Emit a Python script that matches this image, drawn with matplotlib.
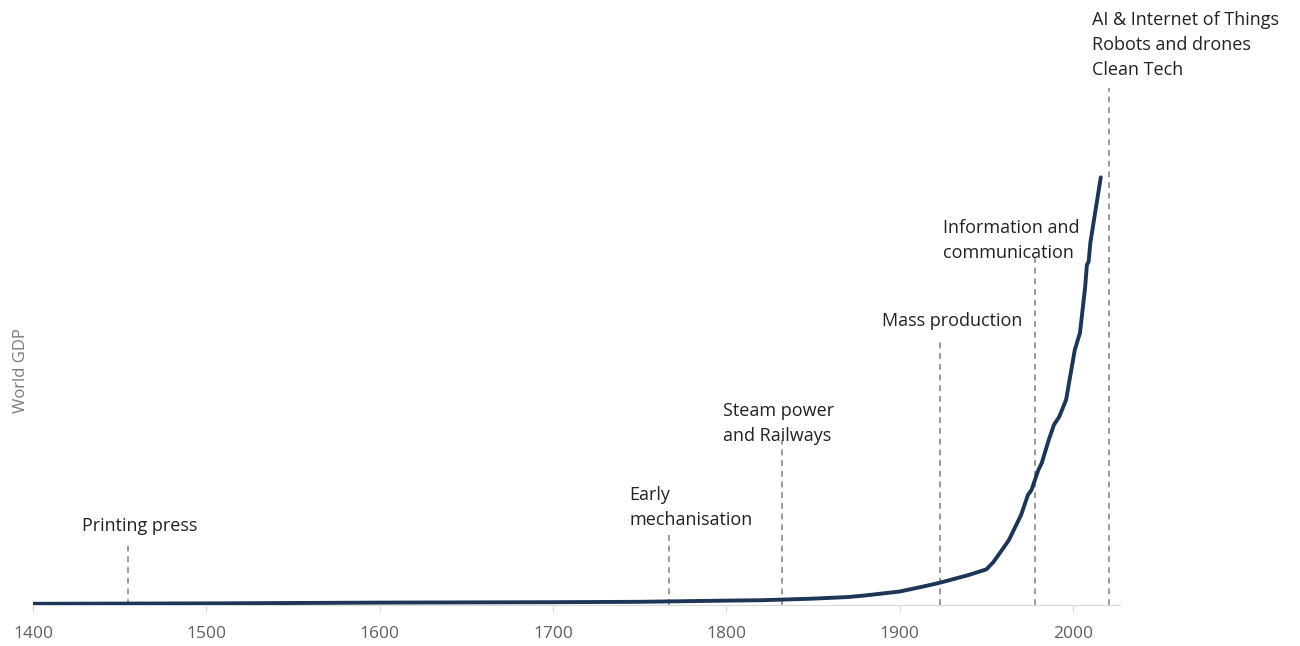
import matplotlib
matplotlib.use("Agg")
import matplotlib.pyplot as plt

plt.rcParams['font.family'] = ['Open Sans', 'DejaVu Sans']

# world GDP, trillions (international $)
years = [1400, 1500, 1600, 1700, 1750, 1800, 1820, 1850, 1870, 1880, 1890,
         1900, 1913, 1923, 1929, 1940, 1950, 1954, 1960, 1963, 1970, 1974,
         1976, 1980, 1982, 1986, 1989, 1992, 1996, 2001, 2004, 2007, 2008,
         2009, 2010, 2012, 2014, 2016]
gdp = [0.3, 0.4, 0.6, 0.7, 0.8, 1.1, 1.2, 1.6, 2.0, 2.4, 2.9,
       3.4, 4.6, 5.6, 6.3, 7.6, 9.0, 10.8, 14.5, 16.4, 22.7, 27.8,
       29.0, 34.1, 35.9, 41.7, 45.5, 47.5, 51.8, 64.4, 68.7, 80.3, 85.9,
       86.7, 91.5, 97.0, 102.5, 108.0]

# technology waves: (label, year of the marker line)
waves = ["Printing press", "Early\nmechanisation", "Steam power\nand Railways",
         "Mass production", "Information and\ncommunication",
         "AI & Internet of Things\nRobots and drones\nClean Tech"]
wave_years = [1455, 1767, 1832, 1923, 1978, 2021]
line_tops = [15.2, 18.9, 41.7, 66.9, 88.4, 130.6]
label_pos = [(1428, 22.2), (1744, 30.0), (1798, 51.2), (1890, 74.0),
             (1925, 97.5), (2011, 149.9)]

fig = plt.figure(figsize=(13, 6.46), dpi=100)
ax = fig.add_axes([0.0254, 0.0635, 0.836, 0.9365])

for yr, top in zip(wave_years, line_tops):
    ax.plot([yr, yr], [0, top], color='#9a9a9a', lw=1.4, ls=(0, (3, 2.5)), zorder=1)

ax.plot(years, gdp, color='#1d3557', lw=2.8, solid_capstyle='round', zorder=3)

for txt, (x, y) in zip(waves, label_pos):
    ax.text(x, y, txt, fontsize=13, color='#222222', ha='left', va='top',
            linespacing=1.5, clip_on=False)

ax.set_xlim(1400, 2027)
ax.set_ylim(0, 152.8)
ax.set_xticks(range(1400, 2001, 100))
ax.set_yticks([])
for s in ['top', 'right', 'left']:
    ax.spines[s].set_visible(False)
ax.spines['bottom'].set_color('#d9d9d9')
ax.tick_params(axis='x', colors='#d9d9d9', length=5, labelcolor='#606060',
               labelsize=12.5, pad=10)
ax.set_ylabel('World GDP', color='#7a7a7a', fontsize=12, labelpad=6)
ax.yaxis.set_label_coords(-0.004, 0.388)

fig.savefig('out.png', dpi=100)
